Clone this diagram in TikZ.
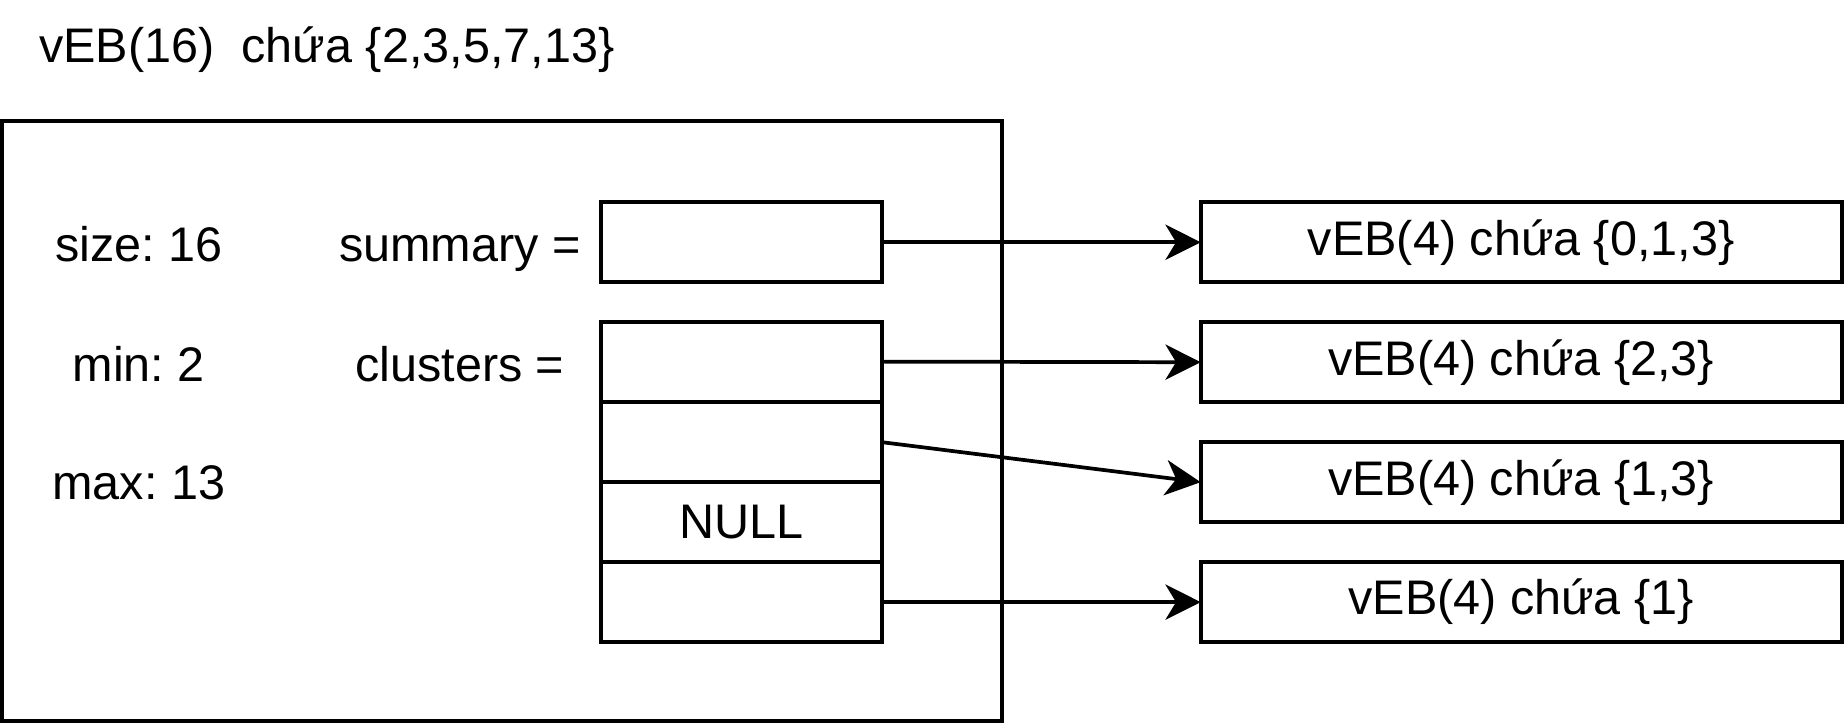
\documentclass[tikz,border=0pt]{standalone}
\usepackage{fontspec}
\setmainfont{Liberation Sans}
\frenchspacing
\usetikzlibrary{arrows.meta}
\begin{document}
\begin{tikzpicture}[x=0.02cm,y=-0.02cm,
  every node/.style={font=\fontsize{23.5}{28}\selectfont},
  lw/.style={line width=1.8pt},
  cell/.style={draw,lw,minimum width=239*0.02cm,minimum height=68*0.02cm,inner sep=0pt,outer sep=0pt},
  sub/.style={draw,lw,minimum width=545*0.02cm,minimum height=68*0.02cm,inner sep=0pt,outer sep=0pt},
  lbl/.style={inner sep=0pt,anchor=base},
  arr/.style={lw,-{Stealth[length=0.6cm,width=0.6cm,inset=0.18cm]}}]
\useasboundingbox (0,0) rectangle (1568,616);
\node[lbl,anchor=base west] (title) at (33,53) {vEB(16)\ \ chứa \{2,3,5,7,13\}};
\node[draw,lw,minimum width=850*0.02cm,minimum height=510*0.02cm,inner sep=0pt] (outer) at (427,358) {};
\node[lbl] (size) at (118,222) {size: 16};
\node[lbl] (min) at (118,324) {min: 2};
\node[lbl] (max) at (118,425) {max: 13};
\node[lbl] (sumlbl) at (391,222) {summary =};
\node[lbl] (clulbl) at (391,324) {clusters =};
\node[cell] (sum) at (630.5,206) {};
\node[cell] (c1) at (630.5,307.5) {};
\node[cell] (c2) at (630.5,376) {};
\node[cell] (c3) at (630.5,444) {NULL};
\node[cell] (c4) at (630.5,512) {};
\node[sub] (r1) at (1293.5,206) {vEB(4) chứa \{0,1,3\}};
\node[sub] (r2) at (1293.5,308) {vEB(4) chứa \{2,3\}};
\node[sub] (r3) at (1293.5,410) {vEB(4) chứa \{1,3\}};
\node[sub] (r4) at (1293.5,512) {vEB(4) chứa \{1\}};
\draw[arr] (sum.east) -- (r1.west);
\draw[arr] (c1.east) -- (r2.west);
\draw[arr] (c2.east) -- (r3.west);
\draw[arr] (c4.east) -- (r4.west);
\end{tikzpicture}
\end{document}
